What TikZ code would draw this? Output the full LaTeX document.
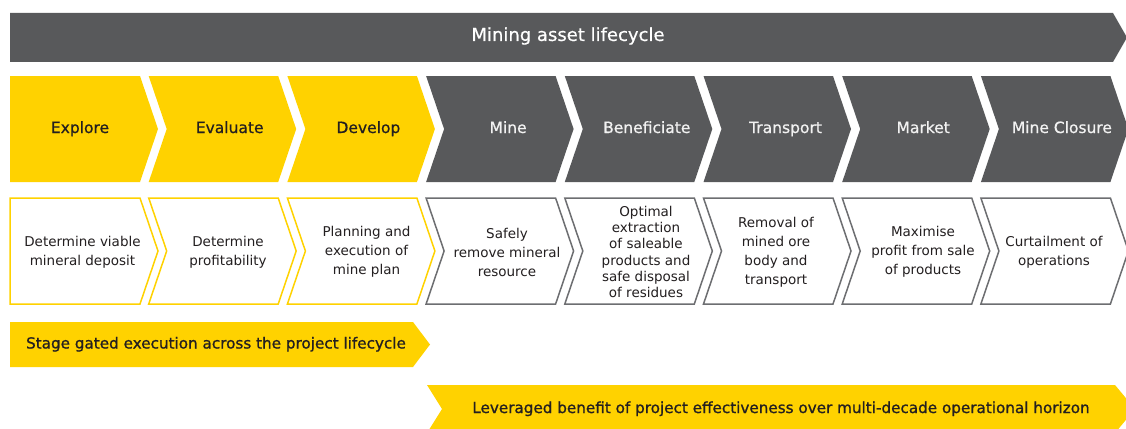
\documentclass[tikz,border=0pt]{standalone}
\usepackage{fontspec}
\setmainfont{DejaVu Sans}
\newfontfamily\medfont{DejaVu Sans}[FakeBold=0.6]
\newfontfamily\semfont{DejaVu Sans}[FakeBold=1.0]
\definecolor{eyyellow}{HTML}{FFD200}
\definecolor{eygrey}{HTML}{58595B}
\definecolor{eyline}{HTML}{6D6E71}
\definecolor{eytext}{HTML}{231F20}
\definecolor{eylight}{HTML}{F2F2F2}
\begin{document}
\begin{tikzpicture}[x=1pt,y=-1pt,
  titletext/.style={font=\medfont\fontsize{18}{21}\selectfont, text=white, inner sep=0},
  stagetext/.style={font=\medfont\fontsize{15.5}{18}\selectfont, inner sep=0, text height=11.5pt, text depth=3.5pt},
  desctext/.style={font=\fontsize{13.5}{19}\selectfont, align=center, inner sep=0, text=eytext},
  bartext/.style={font=\semfont\fontsize{15.2}{18}\selectfont, inner sep=0, text=eytext, text height=11.5pt, text depth=3.5pt},
  yelbox/.style={draw=eyyellow, line width=1.5pt, fill=white, line join=miter},
  greybox/.style={draw=eyline, line width=1.5pt, fill=white, line join=miter}]
\useasboundingbox (0,0) rectangle (1126,428);
\clip (0,0) rectangle (1126,428);
\def\W{129.5}\def\D{18}
% top banner
\fill[eygrey] (10,13) -- (1113,13) -- (1127,37.5) -- (1113,62) -- (10,62) -- cycle;
\node[titletext] (title) at (568,36) {Mining asset lifecycle};
% stage chevrons
\fill[eyyellow] (10,76) -- (140,76) -- (158,129) -- (140,182) -- (10,182) -- cycle;
\foreach \x/\c in {148.7/eyyellow,287.4/eyyellow,426.1/eygrey,564.8/eygrey,703.5/eygrey,842.2/eygrey,980.9/eygrey}{
  \fill[\c] (\x,76) -- ({\x+\W},76) -- ({\x+\W+\D},129) -- ({\x+\W},182) -- (\x,182) -- ({\x+\D},129) -- cycle;
}
\node[stagetext, text=eytext] (explore) at (80,129) {Explore};
\node[stagetext, text=eytext] (evaluate) at (229.7,129) {Evaluate};
\node[stagetext, text=eytext] (develop) at (368.4,129) {Develop};
\node[stagetext, text=eylight] (mine) at (508.1,129) {Mine};
\node[stagetext, text=eylight] (benef) at (646.8,129) {Beneficiate};
\node[stagetext, text=eylight] (transport) at (785.5,129) {Transport};
\node[stagetext, text=eylight] (market) at (923.2,129) {Market};
\node[stagetext, text=eylight] (closure) at (1061.9,129) {Mine Closure};
% description boxes
\draw[yelbox] (10,198) -- (140,198) -- (158,251) -- (140,304) -- (10,304) -- cycle;
\foreach \x/\s in {148.7/yelbox,287.4/yelbox,426.1/greybox,564.8/greybox,703.5/greybox,842.2/greybox,980.9/greybox}{
  \draw[\s] (\x,198) -- ({\x+\W},198) -- ({\x+\W+\D},251) -- ({\x+\W},304) -- (\x,304) -- ({\x+\D},251) -- cycle;
}
\node[desctext] (d1) at (82.5,252) {Determine viable\\mineral deposit};
\node[desctext] (d2) at (228,252) {Determine\\profitability};
\node[desctext] (d3) at (366.5,252) {Planning and\\execution of\\mine plan};
\node[desctext] (d4) at (507,252) {Safely\\remove mineral\\resource};
\node[desctext, font=\fontsize{13.5}{16.2}\selectfont] (d5) at (646,252) {Optimal\\extraction\\of saleable\\products and\\safe disposal\\of residues};
\node[desctext] (d6) at (776,252) {Removal of\\mined ore\\body and\\transport};
\node[desctext] (d7) at (923,252) {Maximise\\profit from sale\\of products};
\node[desctext] (d8) at (1054,252) {Curtailment of\\operations};
% bottom bars
\fill[eyyellow] (10,322) -- (413,322) -- (430,344.5) -- (413,367) -- (10,367) -- cycle;
\node[bartext] (stage) at (216,344.5) {Stage gated execution across the project lifecycle};
\fill[eyyellow] (427,385) -- (1115,385) -- (1135,409) -- (1115,433) -- (427,433) -- (442,409) -- cycle;
\node[bartext] (lever) at (781,409) {Leveraged benefit of project effectiveness over multi-decade operational horizon};
\end{tikzpicture}
\end{document}
